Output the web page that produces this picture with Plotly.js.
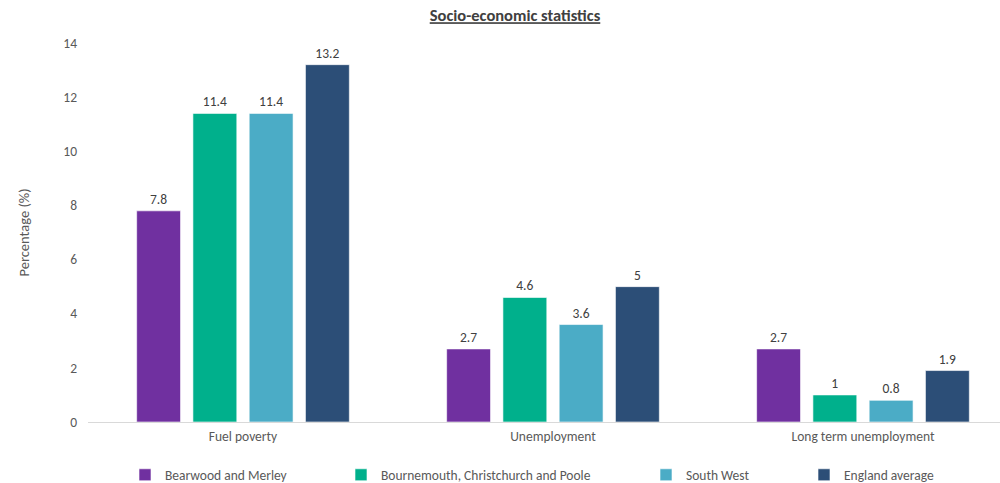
<!DOCTYPE html>
<html>
<head>
<meta charset="utf-8">
<script src="https://cdn.plot.ly/plotly-3.0.1.min.js"></script>
<style>html,body{margin:0;padding:0;background:#fff;}#chart{width:1000px;height:483px;}</style>
</head>
<body>
<div id="chart"></div>
<script>
const categories = ["Fuel poverty", "Unemployment", "Long term unemployment"];
const seriesNames = ["Bearwood and Merley", "Bournemouth, Christchurch and Poole", "South West", "England average"];
const bearwood = [7.8, 2.7, 2.7];
const bcp = [11.4, 4.6, 1.0];
const southWest = [11.4, 3.6, 0.8];
const england = [13.2, 5, 1.9];
const yTicks = [0, 2, 4, 6, 8, 10, 12, 14];

const colors = ["#7030A0", "#00B08C", "#4BACC6", "#2C4E77"];
const allValues = [bearwood, bcp, southWest, england];
const legendIds = ["legend", "legend2", "legend3", "legend4"];
const legendTextX = [159, 375, 680, 838];

const FONT = "Carlito, Lato, 'Open Sans', sans-serif";

const traces = allValues.map((vals, i) => ({
  type: "bar",
  name: seriesNames[i],
  x: categories,
  y: vals,
  text: vals.map(v => String(v)),
  textposition: "outside",
  texttemplate: "%{text}",
  textfont: {family: FONT, size: 13.5, color: "#404040"},
  cliponaxis: false,
  marker: {color: colors[i], line: {color: "rgba(255,255,255,0.6)", width: 1}},
  legend: legendIds[i],
  hoverinfo: "none"
}));

const layout = {
  width: 1000,
  height: 483,
  margin: {l: 88, r: 0, t: 43, b: 61},
  paper_bgcolor: "#ffffff",
  plot_bgcolor: "#ffffff",
  font: {family: FONT, size: 13.5, color: "#595959"},
  title: {
    text: "<b><u>Socio-economic statistics</u></b>",
    x: 0.515, xref: "container", xanchor: "center",
    y: 0.968, yref: "container", yanchor: "middle",
    font: {family: FONT, size: 16.5, color: "#404040"}
  },
  barmode: "group",
  bargap: 0.274,
  bargroupgap: 0.22,
  xaxis: {
    type: "category",
    range: [-0.5, 2.442],
    showline: true, linecolor: "#D9D9D9", linewidth: 1,
    ticks: "", showgrid: false, zeroline: false,
    ticklabelstandoff: 2,
    tickfont: {family: FONT, size: 13.5, color: "#595959"},
    fixedrange: true
  },
  yaxis: {
    range: [0, 14],
    tickvals: yTicks,
    ticktext: yTicks.map(String),
    showline: false, showgrid: false, zeroline: false, ticks: "",
    ticklabelstandoff: 10,
    tickfont: {family: FONT, size: 13.5, color: "#595959"},
    title: {text: "Percentage (%)", standoff: 30, font: {family: FONT, size: 14.5, color: "#595959"}},
    automargin: false,
    fixedrange: true
  },
  showlegend: true
};

legendIds.forEach((id, i) => {
  layout[id] = {
    orientation: "h",
    xref: "container", yref: "container",
    x: (legendTextX[i] - 34) / 1000, xanchor: "left",
    y: 1 - 475 / 483, yanchor: "middle",
    bgcolor: "rgba(0,0,0,0)",
    font: {family: FONT, size: 13.5, color: "#595959"},
    itemwidth: 30,
    borderwidth: 0
  };
});

Plotly.newPlot("chart", traces, layout, {staticPlot: true, displayModeBar: false});
</script>
</body>
</html>
